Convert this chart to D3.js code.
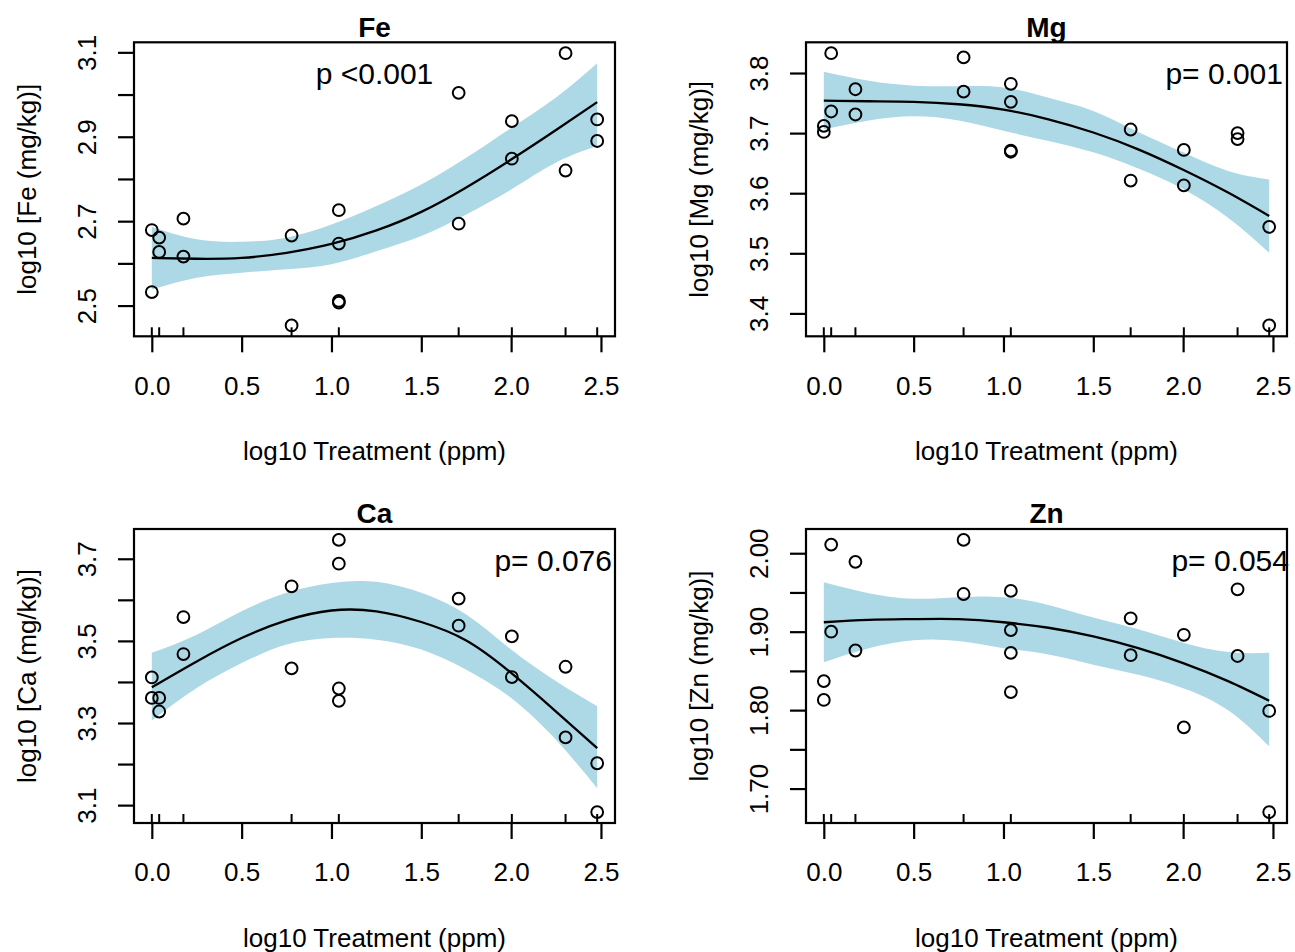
<!DOCTYPE html>
<html>
<head>
<meta charset="utf-8">
<script src="https://cdn.jsdelivr.net/npm/d3@7"></script>
<style>
  body { margin: 0; background: #fff; }
  svg text { font-family: "Liberation Sans", Arial, Helvetica, sans-serif; fill: #000; }
</style>
</head>
<body>
<div id="chart"></div>
<script>
// x positions (log10 treatment) of every sample, same for all four elements
var treatX = [0, 0, 0.041, 0.041, 0.176, 0.176, 0.778, 0.778, 1.041, 1.041, 1.041, 1.041,
              1.708, 1.708, 2.004, 2.004, 2.303, 2.303, 2.479, 2.479];
var rugX = [0, 0.041, 0.176, 0.778, 1.041, 1.708, 2.004, 2.303, 2.479];
var xTicks = [0, 0.5, 1, 1.5, 2, 2.5];

var fitX = [0, 0.25, 0.5, 0.75, 1.0, 1.25, 1.5, 1.75, 2.0, 2.25, 2.479];

// Fe
var feY = [2.679, 2.532, 2.661, 2.627, 2.706, 2.616, 2.666, 2.453, 2.726, 2.647, 2.511, 2.507,
           3.004, 2.694, 2.937, 2.848, 3.098, 2.820, 2.941, 2.890];
var feFit = [2.613, 2.611, 2.613, 2.625, 2.646, 2.678, 2.722, 2.780, 2.846, 2.916, 2.982];
var feUpper = [2.687, 2.657, 2.651, 2.661, 2.692, 2.736, 2.787, 2.850, 2.921, 2.993, 3.074];
var feLower = [2.538, 2.566, 2.578, 2.586, 2.598, 2.629, 2.665, 2.716, 2.775, 2.839, 2.878];
var feTicks = [2.5, 2.6, 2.7, 2.8, 2.9, 3.0, 3.1];
var feLabels = ["2.5", "", "2.7", "", "2.9", "", "3.1"];

// Mg
var mgY = [3.712, 3.702, 3.833, 3.736, 3.773, 3.731, 3.826, 3.769, 3.782, 3.752, 3.671, 3.669,
           3.706, 3.621, 3.672, 3.613, 3.700, 3.690, 3.544, 3.380];
var mgFit = [3.754, 3.753, 3.752, 3.748, 3.739, 3.723, 3.701, 3.673, 3.639, 3.601, 3.562];
var mgUpper = [3.802, 3.787, 3.779, 3.778, 3.776, 3.759, 3.737, 3.702, 3.668, 3.637, 3.623];
var mgLower = [3.706, 3.721, 3.728, 3.721, 3.704, 3.687, 3.668, 3.641, 3.607, 3.559, 3.501];
var mgTicks = [3.4, 3.5, 3.6, 3.7, 3.8];
var mgLabels = ["3.4", "3.5", "3.6", "3.7", "3.8"];

// Ca
var caY = [3.411, 3.361, 3.361, 3.328, 3.558, 3.468, 3.633, 3.433, 3.746, 3.688, 3.384, 3.354,
           3.603, 3.537, 3.511, 3.412, 3.437, 3.265, 3.202, 3.083];
var caFit = [3.387, 3.450, 3.507, 3.550, 3.574, 3.572, 3.546, 3.501, 3.422, 3.328, 3.239];
var caUpper = [3.471, 3.515, 3.572, 3.617, 3.641, 3.644, 3.617, 3.564, 3.479, 3.402, 3.341];
var caLower = [3.306, 3.385, 3.446, 3.491, 3.507, 3.503, 3.479, 3.430, 3.361, 3.259, 3.141];
var caTicks = [3.1, 3.2, 3.3, 3.4, 3.5, 3.6, 3.7];
var caLabels = ["3.1", "", "3.3", "", "3.5", "", "3.7"];

// Zn
var znY = [1.837, 1.813, 2.011, 1.900, 1.989, 1.876, 2.017, 1.948, 1.952, 1.902, 1.873, 1.823,
           1.917, 1.870, 1.896, 1.778, 1.954, 1.869, 1.799, 1.670];
var znFit = [1.912, 1.915, 1.916, 1.916, 1.912, 1.905, 1.894, 1.879, 1.860, 1.837, 1.812];
var znUpper = [1.963, 1.949, 1.942, 1.944, 1.944, 1.934, 1.918, 1.903, 1.886, 1.874, 1.873];
var znLower = [1.861, 1.879, 1.889, 1.888, 1.879, 1.871, 1.858, 1.845, 1.828, 1.800, 1.754];
var znTicks = [1.70, 1.75, 1.80, 1.85, 1.90, 1.95, 2.00];
var znLabels = ["1.70", "", "1.80", "", "1.90", "", "2.00"];

function drawChart() {
    d3.select("#chart").select("svg").remove();

    var width = 481, height = 294;

    var svg = d3.select("#chart").append("svg")
        .attr("width", 1295)
        .attr("height", 952);
    svg.append("rect").attr("width", 1295).attr("height", 952).attr("fill", "#fff");

    // one entry per panel, layout only
    var panels = [
        { name: "Fe", ys: feY, fit: feFit, up: feUpper, lo: feLower, ticks: feTicks, labels: feLabels,
          p: "p <0.001", left: 134, top: 42.3, pAnchor: "middle", pX: width / 2 },
        { name: "Mg", ys: mgY, fit: mgFit, up: mgUpper, lo: mgLower, ticks: mgTicks, labels: mgLabels,
          p: "p= 0.001", left: 806, top: 42.3, pAnchor: "end", pX: width - 4 },
        { name: "Ca", ys: caY, fit: caFit, up: caUpper, lo: caLower, ticks: caTicks, labels: caLabels,
          p: "p= 0.076", left: 134, top: 529, pAnchor: "end", pX: width - 3 },
        { name: "Zn", ys: znY, fit: znFit, up: znUpper, lo: znLower, ticks: znTicks, labels: znLabels,
          p: "p= 0.054", left: 806, top: 529, pAnchor: "end", pX: width + 2 }
    ];

    // R style axis range: data extent widened by 4% on both sides
    function padded(vals) {
        var e = d3.extent(vals), d = (e[1] - e[0]) * 0.04;
        return [e[0] - d, e[1] + d];
    }

    panels.forEach(function (p) {
        var g = svg.append("g")
            .attr("transform", `translate(${p.left},${p.top})`);

        var x = d3.scaleLinear().domain(padded(treatX)).range([0, width]);
        var y = d3.scaleLinear().domain(padded(p.ys)).range([height, 0]);

        var band = fitX.map(function (v, i) { return { x: v, up: p.up[i], lo: p.lo[i], fit: p.fit[i] }; });

        // confidence band
        g.append("path")
            .datum(band)
            .attr("fill", "#add8e6")
            .attr("d", d3.area()
                .curve(d3.curveNatural)
                .x(d => x(d.x))
                .y0(d => y(d.lo))
                .y1(d => y(d.up)));

        // fitted curve
        g.append("path")
            .datum(band)
            .attr("fill", "none")
            .attr("stroke", "#000")
            .attr("stroke-width", 2.3)
            .attr("d", d3.line()
                .curve(d3.curveNatural)
                .x(d => x(d.x))
                .y(d => y(d.fit)));

        // points
        g.selectAll("circle.pt")
            .data(p.ys)
            .enter()
            .append("circle")
            .attr("class", "pt")
            .attr("cx", (d, i) => x(treatX[i]))
            .attr("cy", d => y(d))
            .attr("r", 5.9)
            .attr("fill", "none")
            .attr("stroke", "#000")
            .attr("stroke-width", 2);

        // rug along the bottom edge
        g.selectAll("line.rug")
            .data(rugX)
            .enter()
            .append("line")
            .attr("class", "rug")
            .attr("x1", d => x(d)).attr("x2", d => x(d))
            .attr("y1", height).attr("y2", height - 9)
            .attr("stroke", "#000")
            .attr("stroke-width", 2);

        // x axis
        var xAxis = g.append("g")
            .attr("transform", `translate(0,${height})`)
            .call(d3.axisBottom(x).tickValues(xTicks).tickSize(16).tickPadding(24)
                .tickFormat(d3.format(".1f")));
        xAxis.select(".domain").remove();
        xAxis.selectAll("line").attr("stroke", "#000").attr("stroke-width", 2.2);
        xAxis.selectAll("text").attr("font-size", 26).attr("font-family", null);

        // y axis, labels parallel to the axis
        var yAxis = g.append("g")
            .call(d3.axisLeft(y).tickValues(p.ticks).tickSize(16)
                .tickFormat((d, i) => p.labels[i]));
        yAxis.select(".domain").remove();
        yAxis.selectAll("line").attr("stroke", "#000").attr("stroke-width", 2.2);
        yAxis.selectAll("text")
            .attr("font-size", 26)
            .attr("font-family", null)
            .attr("x", null).attr("dy", null)
            .attr("text-anchor", "middle")
            .attr("dominant-baseline", "central")
            .attr("transform", "translate(-47,0) rotate(-90)");

        // box
        g.append("rect")
            .attr("width", width)
            .attr("height", height)
            .attr("fill", "none")
            .attr("stroke", "#000")
            .attr("stroke-width", 2.2);

        // title
        g.append("text")
            .attr("x", width / 2)
            .attr("y", -5.6)
            .attr("text-anchor", "middle")
            .attr("font-size", 28)
            .attr("font-weight", "bold")
            .text(p.name);

        // p value
        g.append("text")
            .attr("x", p.pX)
            .attr("y", 42)
            .attr("text-anchor", p.pAnchor)
            .attr("font-size", 30)
            .text(p.p);

        // axis titles
        g.append("text")
            .attr("x", width / 2)
            .attr("y", height + 124)
            .attr("text-anchor", "middle")
            .attr("font-size", 26)
            .text("log10 Treatment (ppm)");

        g.append("text")
            .attr("transform", `translate(-107,${height / 2}) rotate(-90)`)
            .attr("text-anchor", "middle")
            .attr("dominant-baseline", "central")
            .attr("font-size", 26)
            .text(`log10 [${p.name} (mg/kg)]`);
    });
}

document.addEventListener('DOMContentLoaded', drawChart);
</script>
</body>
</html>
